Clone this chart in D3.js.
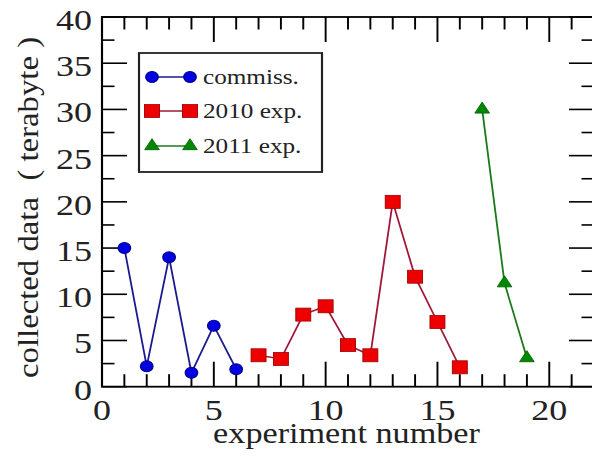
<!DOCTYPE html>
<html><head><meta charset="utf-8">
<script src="https://cdn.jsdelivr.net/npm/d3@7"></script>
<style>html,body{margin:0;padding:0;background:#fff;}svg{display:block;}</style>
</head><body>
<script>
// Data
const commissX = [1, 2, 3, 4, 5, 6];
const commissY = [15, 2.2, 14, 1.5, 6.6, 1.9];
const exp2010X = [7, 8, 9, 10, 11, 12, 13, 14, 15, 16];
const exp2010Y = [3.4, 3.0, 7.8, 8.7, 4.5, 3.4, 20.0, 11.9, 7.0, 2.1];
const exp2011X = [17, 18, 19];
const exp2011Y = [30, 11.2, 3.1];
const seriesNames = ["commiss.", "2010 exp.", "2011 exp."];
const xTicks = [0, 5, 10, 15, 20];
const yTicks = [0, 5, 10, 15, 20, 25, 30, 35, 40];

const W = 592, H = 470, SX = 1.2;
const svg = d3.select("body").append("svg").attr("width", W).attr("height", H);
svg.append("rect").attr("width", W).attr("height", H).attr("fill", "#fff");
const g = svg.append("g").attr("transform", `scale(${SX},1)`);

const pLeft = 102 / SX, pRight = 594 / SX, pTop = 17, pBottom = 386.7;
const x = d3.scaleLinear().domain([0, 22]).range([pLeft, pRight]);
const y = d3.scaleLinear().domain([0, 40]).range([pBottom, pTop]);

const font = "'Liberation Serif','Times New Roman',serif";
const majorLen = 25, minorLen = 12.5;

// ticks (inward on all four sides)
const xMinor = d3.range(0, 23, 1);
const yMinor = d3.range(0, 40.01, 2.5);
const tg = g.append("g").attr("stroke", "#000").attr("stroke-width", 1.6);
xMinor.forEach(v => {
  const L = v % 5 === 0 ? majorLen : minorLen;
  tg.append("line").attr("x1", x(v)).attr("x2", x(v)).attr("y1", pBottom).attr("y2", pBottom - L);
  tg.append("line").attr("x1", x(v)).attr("x2", x(v)).attr("y1", pTop).attr("y2", pTop + L);
});
yMinor.forEach(v => {
  const L = (v % 5 === 0 ? majorLen : minorLen) / SX;
  tg.append("line").attr("y1", y(v)).attr("y2", y(v)).attr("x1", pLeft).attr("x2", pLeft + L);
  tg.append("line").attr("y1", y(v)).attr("y2", y(v)).attr("x1", pRight).attr("x2", pRight - L);
});

// frame
g.append("rect").attr("x", pLeft).attr("y", pTop).attr("width", pRight - pLeft).attr("height", pBottom - pTop)
  .attr("fill", "none").attr("stroke", "#000").attr("stroke-width", 1.8);

// tick labels
g.append("g").selectAll("text").data(xTicks).join("text")
  .attr("x", d => x(d)).attr("y", 420).attr("text-anchor", "middle")
  .attr("font-family", font).attr("font-size", 30).attr("fill", "#222").text(d => d);
g.append("g").selectAll("text").data(yTicks).join("text")
  .attr("x", 92 / SX).attr("y", d => y(d) + 13).attr("text-anchor", "end")
  .attr("font-family", font).attr("font-size", 30).attr("fill", "#222").text(d => d);

// axis titles
g.append("text").attr("x", 346.5 / SX).attr("y", 443).attr("text-anchor", "middle")
  .attr("font-family", font).attr("font-size", 28.5).attr("fill", "#222").text("experiment number");
svg.append("text").attr("transform", "translate(38,378) rotate(-90) scale(1.13,1)").attr("text-anchor", "start")
  .attr("font-family", font).attr("font-size", 29).attr("fill", "#222").attr("xml:space", "preserve")
  .text("collected data  ( terabyte )");

// series
const series = [
  {xs: commissX, ys: commissY, line: "#1a1a90", fill: "#0000e0", stroke: "#00008a", shape: "circle"},
  {xs: exp2010X, ys: exp2010Y, line: "#a01838", fill: "#ee0000", stroke: "#a00000", shape: "square"},
  {xs: exp2011X, ys: exp2011Y, line: "#1a7a1a", fill: "#008800", stroke: "#006000", shape: "triangle"}
];
function marker(sel, s, cx, cy) {
  const gg = sel.append("g").attr("transform", `translate(${cx},${cy}) scale(${1 / SX * 1.15},1)`);
  if (s.shape === "circle") gg.append("circle").attr("r", 5.5).attr("fill", s.fill).attr("stroke", s.stroke).attr("stroke-width", 1);
  else if (s.shape === "square") gg.append("rect").attr("x", -6.5).attr("y", -6.5).attr("width", 13).attr("height", 13).attr("fill", s.fill).attr("stroke", s.stroke).attr("stroke-width", 0.8);
  else gg.append("path").attr("d", d3.symbol(d3.symbolTriangle, 70)()).attr("fill", s.fill).attr("stroke", s.stroke).attr("stroke-width", 0.8);
}
series.forEach(s => {
  const pts = s.xs.map((v, i) => [x(v), y(s.ys[i])]);
  g.append("path").attr("d", d3.line()(pts)).attr("fill", "none").attr("stroke", s.line).attr("stroke-width", 1.5);
  pts.forEach(p => marker(g, s, p[0], p[1]));
});

// legend
g.append("rect").attr("x", 139 / SX).attr("y", 53).attr("width", (322 - 139) / SX).attr("height", 119)
  .attr("fill", "#fff").attr("stroke", "#222").attr("stroke-width", 1.8);
const rowY = [77, 111, 146];
series.forEach((s, i) => {
  g.append("line").attr("x1", 152 / SX).attr("x2", 190 / SX).attr("y1", rowY[i]).attr("y2", rowY[i])
    .attr("stroke", s.line).attr("stroke-width", 1.5);
  marker(g, s, 152 / SX, rowY[i]);
  marker(g, s, 190 / SX, rowY[i]);
  g.append("text").attr("x", 203 / SX).attr("y", rowY[i] + 7).attr("font-family", font).attr("font-size", 21)
    .attr("fill", "#222").text(seriesNames[i]);
});
</script>
</body></html>
